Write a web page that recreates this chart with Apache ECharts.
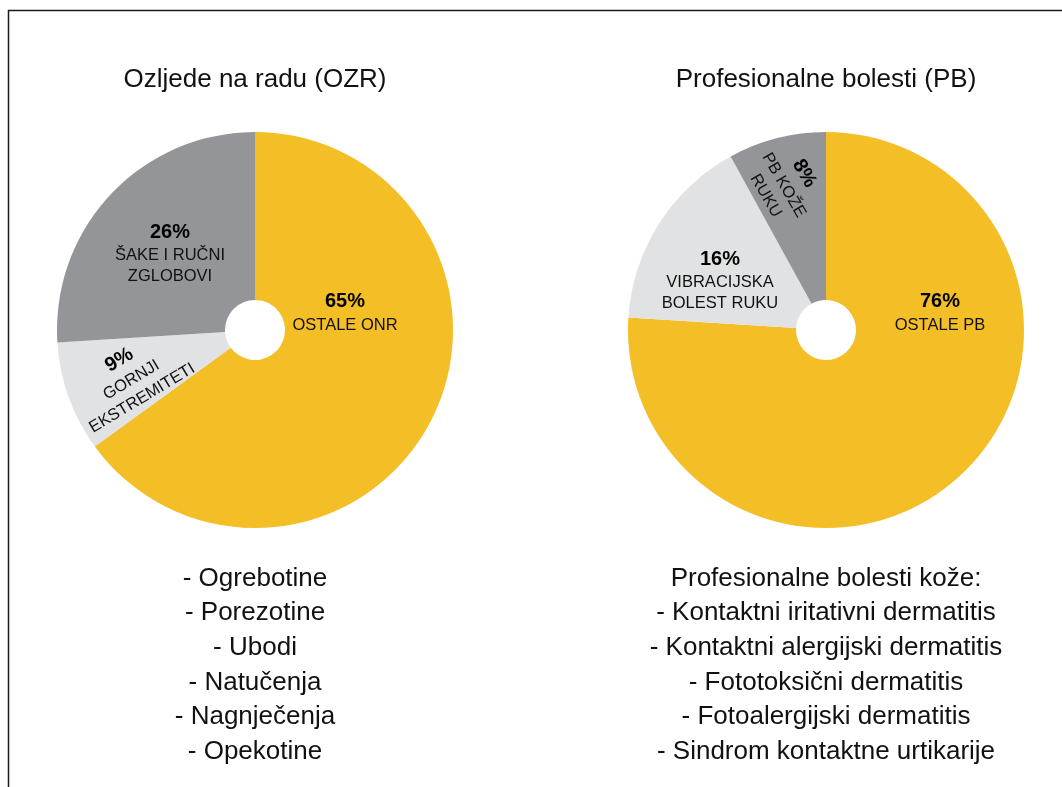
<!DOCTYPE html>
<html>
<head>
<meta charset="utf-8">
<script src="https://cdn.jsdelivr.net/npm/echarts@6/dist/echarts.min.js"></script>
<style>
  html, body { margin: 0; padding: 0; background: #ffffff; }
  #chart { width: 1062px; height: 787px; }
</style>
</head>
<body>
<div id="chart"></div>
<script>
// Injuries at work (OZR)
const ozrNames = ['OSTALE ONR', 'GORNJI\nEKSTREMITETI', 'ŠAKE I RUČNI\nZGLOBOVI'];
const ozrValues = [65, 9, 26];

// Occupational diseases (PB)
const pbNames = ['OSTALE PB', 'VIBRACIJSKA\nBOLEST RUKU', 'PB KOŽE\nRUKU'];
const pbValues = [76, 16, 8];

const titles = ['Ozljede na radu (OZR)', 'Profesionalne bolesti (PB)'];

const ozrList = ['- Ogrebotine', '- Porezotine', '- Ubodi', '- Natučenja', '- Nagnječenja', '- Opekotine'];
const pbList = ['Profesionalne bolesti kože:', '- Kontaktni iritativni dermatitis', '- Kontaktni alergijski dermatitis',
  '- Fototoksični dermatitis', '- Fotoalergijski dermatitis', '- Sindrom kontaktne urtikarije'];

const sliceColors = ['#F4BE26', '#E1E2E3', '#939598'];

// label anchor points [x, y, rotation] per series and slice
const labelSpots = [
  [[345, 312, 0], [130, 378, 31], [170, 253, 0]],
  [[940, 312, 0], [720, 280, 0], [786, 184, -60]]
];

const FONT = '"Liberation Sans", "Helvetica Neue", Arial, sans-serif';
const centers = [[255, 330], [826, 330]];

function pieSeries(idx, names, values) {
  return {
    type: 'pie',
    center: centers[idx],
    radius: [30, 198],
    startAngle: 90,
    clockwise: true,
    silent: true,
    animation: false,
    emphasis: { disabled: true },
    labelLine: { show: false },
    itemStyle: { borderWidth: 0 },
    label: {
      show: true,
      position: 'inside',
      align: 'center',
      verticalAlign: 'middle',
      formatter: p => '{p|' + p.value + '%}\n{n|' + p.name.split('\n').join('}\n{n|') + '}',
      rich: {
        p: { fontFamily: FONT, fontWeight: 'bold', fontSize: 20, lineHeight: 26, color: '#000', align: 'center' },
        n: { fontFamily: FONT, fontSize: 16.5, lineHeight: 21, color: '#111', align: 'center' }
      }
    },
    labelLayout: function (params) {
      const s = labelSpots[idx][params.dataIndex];
      return { x: s[0], y: s[1], rotate: s[2], align: 'center', verticalAlign: 'middle' };
    },
    data: values.map((v, i) => ({ value: v, name: names[i], itemStyle: { color: sliceColors[i] } }))
  };
}

const chart = echarts.init(document.getElementById('chart'), null, { renderer: 'canvas' });
chart.setOption({
  backgroundColor: '#ffffff',
  animation: false,
  series: [pieSeries(0, ozrNames, ozrValues), pieSeries(1, pbNames, pbValues)],
  graphic: [
    { type: 'line', shape: { x1: 8, y1: 10.5, x2: 1062, y2: 10.5 }, style: { stroke: '#1a1a1a', lineWidth: 1.5 } },
    { type: 'line', shape: { x1: 8.5, y1: 10, x2: 8.5, y2: 787 }, style: { stroke: '#1a1a1a', lineWidth: 1.5 } },
    { type: 'text', x: centers[0][0], y: 80, style: { text: titles[0], fontFamily: FONT, fontSize: 26, fill: '#111', align: 'center', verticalAlign: 'middle' } },
    { type: 'text', x: centers[1][0], y: 80, style: { text: titles[1], fontFamily: FONT, fontSize: 26, fill: '#111', align: 'center', verticalAlign: 'middle' } },
    { type: 'text', x: centers[0][0], y: 561, style: { text: ozrList.join('\n'), fontFamily: FONT, fontSize: 26, lineHeight: 34.7, fill: '#111', align: 'center', verticalAlign: 'top' } },
    { type: 'text', x: centers[1][0], y: 561, style: { text: pbList.join('\n'), fontFamily: FONT, fontSize: 26, lineHeight: 34.7, fill: '#111', align: 'center', verticalAlign: 'top' } }
  ]
});
</script>
</body>
</html>
